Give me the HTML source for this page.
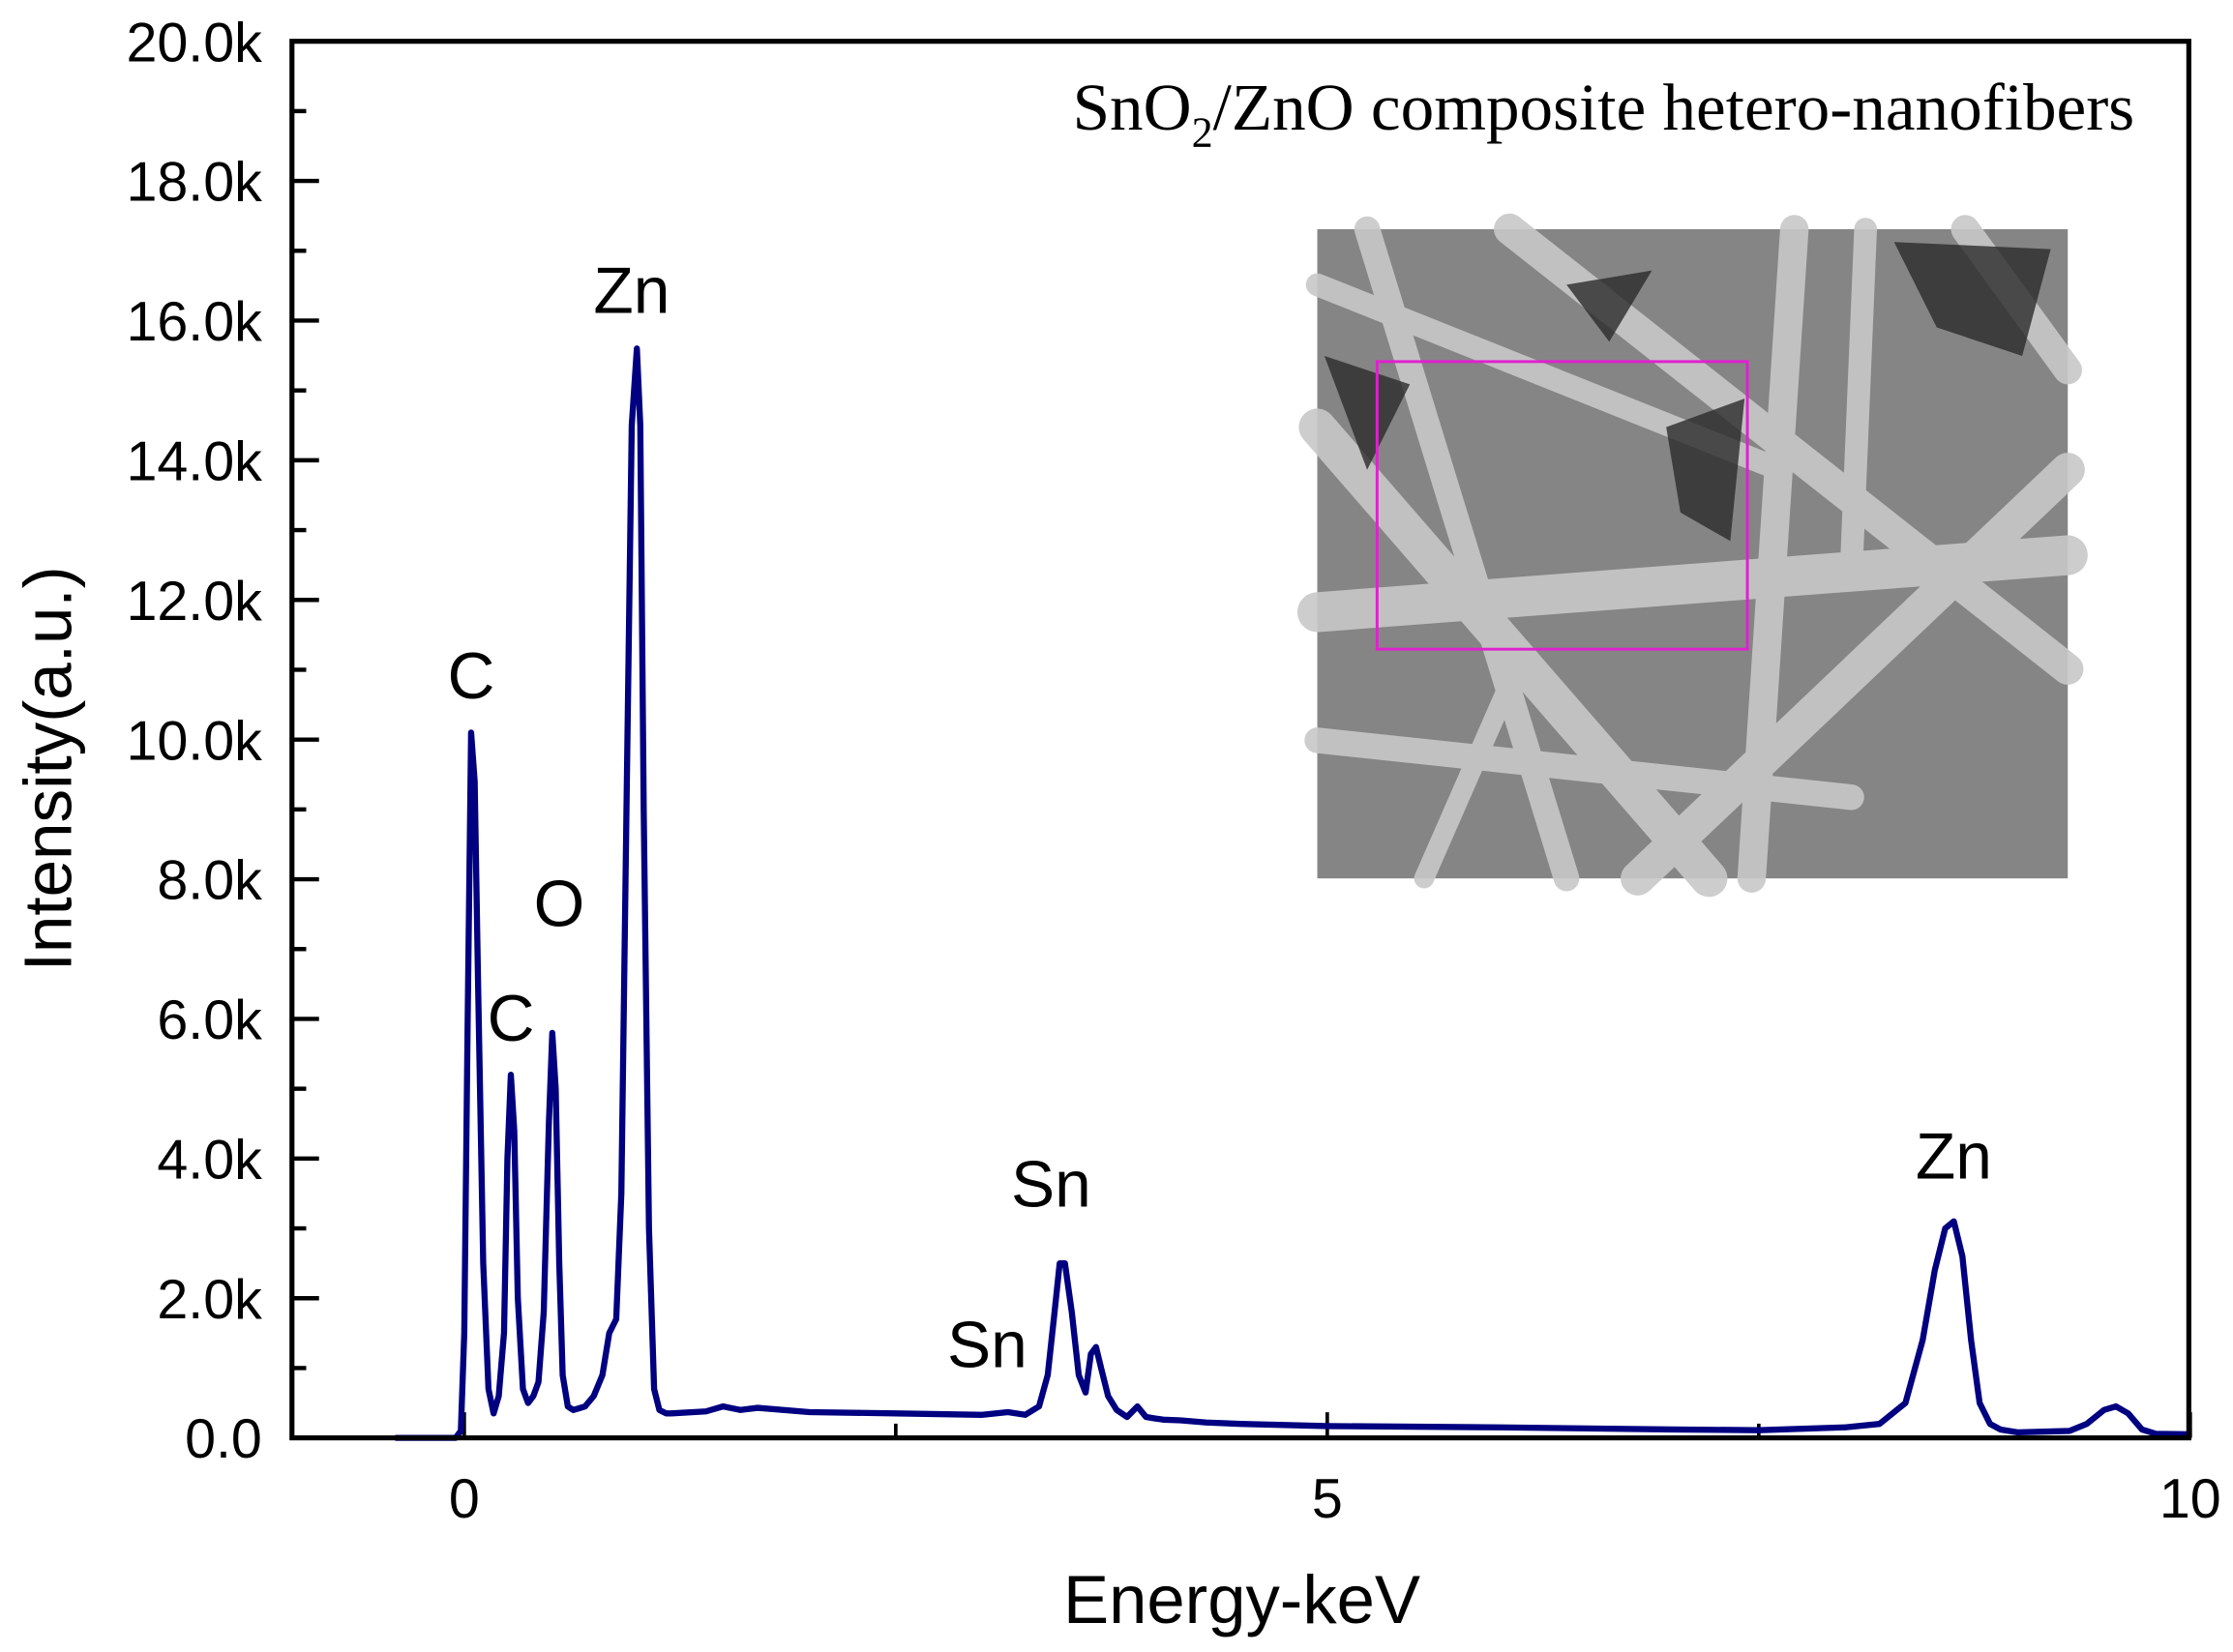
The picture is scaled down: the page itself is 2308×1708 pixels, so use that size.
<!DOCTYPE html>
<html><head><meta charset="utf-8"><style>html,body{margin:0;padding:0;background:#fff}svg{display:block}</style></head>
<body>
<svg id="chart" width="2308" height="1708" viewBox="0 0 1568 1160.4" xmlns="http://www.w3.org/2000/svg" font-family="'Liberation Sans', Arial, sans-serif">
<rect width="1568" height="1161" fill="#fff"/>
<g id="inset">
  <rect x="925" y="161" width="527" height="456" fill="#858585"/>
  <g stroke="#c8c8c8" stroke-linecap="round" opacity="0.9">
    <line x1="925" y1="300" x2="1200" y2="617" stroke-width="26"/>
    <line x1="960" y1="161" x2="1100" y2="617" stroke-width="18"/>
    <line x1="1060" y1="161" x2="1452" y2="470" stroke-width="22"/>
    <line x1="1150" y1="617" x2="1452" y2="330" stroke-width="24"/>
    <line x1="1260" y1="161" x2="1230" y2="617" stroke-width="20"/>
    <line x1="1310" y1="161" x2="1300" y2="400" stroke-width="16"/>
    <line x1="925" y1="430" x2="1452" y2="390" stroke-width="28"/>
    <line x1="925" y1="520" x2="1300" y2="560" stroke-width="18"/>
    <line x1="1380" y1="161" x2="1452" y2="260" stroke-width="20"/>
    <line x1="1000" y1="617" x2="1060" y2="480" stroke-width="14"/>
    <line x1="925" y1="200" x2="1250" y2="330" stroke-width="16"/>
  </g>
  <g fill="#2a2a2a" opacity="0.8">
    <polygon points="1170,300 1225,280 1215,380 1180,360"/>
    <polygon points="1330,170 1440,175 1420,250 1360,230"/>
    <polygon points="930,250 990,270 960,330"/>
    <polygon points="1100,200 1160,190 1130,240"/>
  </g>
  <rect x="967" y="254" width="260" height="202" fill="none" stroke="#e020d0" stroke-width="2"/>
</g>
<g id="axes"></g>
<path id="spectrum" fill="none" stroke="#000080" stroke-width="4.3" stroke-linejoin="round"/>
<rect x="205" y="29" width="1332" height="981" fill="none" stroke="#000" stroke-width="3.5"/>
<text x="1126" y="91" font-family="'Liberation Serif', 'Times New Roman', serif" font-size="47" text-anchor="middle">SnO<tspan font-size="30" dy="12">2</tspan><tspan dy="-12">/ZnO composite hetero-nanofibers</tspan></text>
<text x="872" y="1140" font-size="48" text-anchor="middle">Energy-keV</text>
<text x="50" y="540" font-size="47" text-anchor="middle" transform="rotate(-90 50 540)">Intensity(a.u.)</text>
<g id="peaklabels" font-size="46" text-anchor="middle"></g>
</svg>
<script>
const energy = [-0.4,-0.05,-0.02,0.0,0.02,0.04,0.06,0.08,0.11,0.14,0.17,0.2,0.23,0.25,0.27,0.29,0.31,0.34,0.37,0.4,0.43,0.46,0.49,0.51,0.53,0.55,0.57,0.6,0.63,0.66,0.7,0.75,0.8,0.84,0.88,0.91,0.94,0.97,1.0,1.02,1.04,1.07,1.1,1.13,1.17,1.2,1.4,1.5,1.6,1.7,2.0,2.5,3.0,3.15,3.25,3.33,3.38,3.42,3.45,3.48,3.52,3.56,3.6,3.63,3.66,3.69,3.73,3.78,3.84,3.9,3.95,4.0,4.05,4.15,4.3,4.5,5.0,6.0,7.0,7.5,8.0,8.2,8.35,8.45,8.52,8.58,8.63,8.68,8.73,8.78,8.84,8.9,9.0,9.3,9.4,9.5,9.57,9.64,9.72,9.8,10.0];
const counts = [0,0,100,1500,6000,10100,9400,6500,2500,700,350,600,1500,4000,5200,4400,2000,700,500,600,800,1800,4500,5800,5000,2500,900,450,400,420,450,600,900,1500,1700,3500,9000,14500,15600,14500,9000,3000,700,400,350,350,380,450,400,430,370,350,330,370,330,450,900,1800,2500,2500,1800,900,650,1200,1300,1000,600,400,300,450,300,280,260,250,220,200,170,150,120,110,150,200,500,1400,2400,3000,3100,2600,1400,500,200,120,80,100,200,400,450,350,120,60,50];
const yTicks = [0,2000,4000,6000,8000,10000,12000,14000,16000,18000,20000];
const yTickLabels = ["0.0","2.0k","4.0k","6.0k","8.0k","10.0k","12.0k","14.0k","16.0k","18.0k","20.0k"];
const xTicks = [0,5,10];
const xTickLabels = ["0","5","10"];
const peakNames = ["C","C","O","Zn","Sn","Sn","Zn"];
const peakEnergy = [0.04,0.27,0.55,0.97,3.4,3.03,8.63];
const peakCounts = [10100,5200,5800,15600,2600,300,3100];
const peakOffsetY = [24,24,75,25,35,35,30];

const X = e => 326 + (e - 0) * 121.2;
const Y = v => 1010 - v * (981 / 20000);
const NS = "http://www.w3.org/2000/svg";
function mk(tag, attrs, parent){const el=document.createElementNS(NS,tag);for(const k in attrs)el.setAttribute(k,attrs[k]);parent.appendChild(el);return el;}
const axes = document.getElementById('axes');
for (let i=0;i<yTicks.length;i++){
  const y=Y(yTicks[i]);
  const t=mk('line',{x1:205,x2:224,y1:y,y2:y,stroke:'#000','stroke-width':3},axes);
  
  
  const l=mk('text',{x:184,y:y+14,'font-size':39,'text-anchor':'end'},axes);
  l.textContent=yTickLabels[i];
  
  
  if(i<yTicks.length-1){const ym=Y(yTicks[i]+1000);
    const m=mk('line',{x1:205,x2:215,y1:ym,y2:ym,stroke:'#000','stroke-width':3},axes);
    
    }
}
for (let i=0;i<xTicks.length;i++){
  const x=X(xTicks[i]);
  const t=mk('line',{x1:x,x2:x,y1:1010,y2:992,stroke:'#000','stroke-width':2.5},axes);
  
  
  const l=mk('text',{x:x,y:1066,'font-size':39,'text-anchor':'middle'},axes);
  l.textContent=xTickLabels[i];
  
  
  if(i<xTicks.length-1){const xm=X(xTicks[i]+2.5);
    const m=mk('line',{x1:xm,x2:xm,y1:1010,y2:1000,stroke:'#000','stroke-width':2.5},axes);
    
    }
}
let d='';
for(let i=0;i<energy.length;i++){d+=(i?'L':'M')+X(energy[i]).toFixed(1)+' '+Y(counts[i]).toFixed(1);}
document.getElementById('spectrum').setAttribute('d',d);
const pl=document.getElementById('peaklabels');
for(let i=0;i<peakNames.length;i++){
  const t=mk('text',{x:X(peakEnergy[i]),y:Y(peakCounts[i])-peakOffsetY[i]},pl);
  t.textContent=peakNames[i];
  
  
}
</script>
</body></html>
